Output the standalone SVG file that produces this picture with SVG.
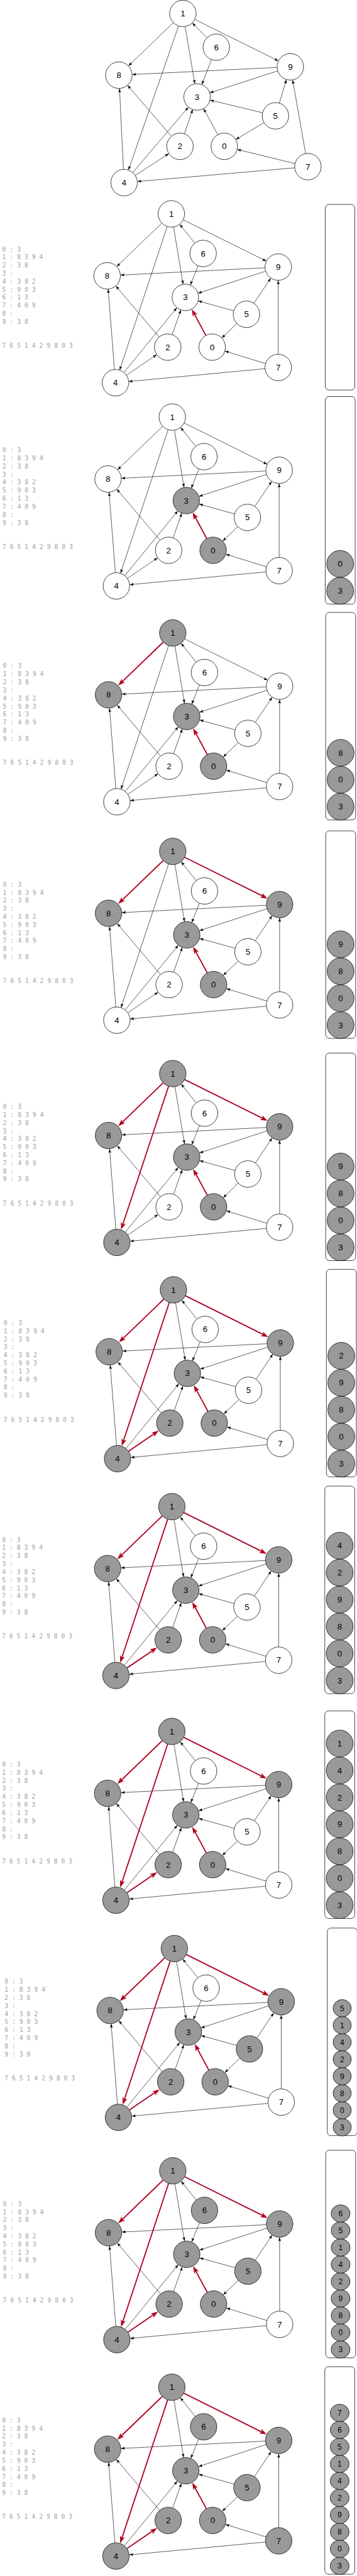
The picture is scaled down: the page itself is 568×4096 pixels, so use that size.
<svg xmlns="http://www.w3.org/2000/svg" width="568" height="4096" viewBox="0 0 568 4096">
<defs>
<marker id="ak" markerUnits="userSpaceOnUse" markerWidth="12" markerHeight="9" refX="11" refY="4" orient="auto"><path d="M0,0L11,4L0,8L2.5,4Z" fill="#000"/></marker>
<marker id="ar" markerUnits="userSpaceOnUse" markerWidth="21" markerHeight="15" refX="12" refY="7" orient="auto"><path d="M0,0L20,7L0,14L5,7Z" fill="#b0001e"/></marker>
<style>
.nd circle,.nd ellipse{stroke:#000;stroke-width:1.3;fill:#fff}
.g circle,.g ellipse{fill:#999}
.nd text{font-family:'Liberation Sans',Arial,sans-serif;font-size:23px;text-anchor:middle;fill:#000}
.sm text{font-size:21px}
.k{stroke:#000;stroke-width:1.1;fill:none;marker-end:url(#ak)}
.r{stroke:#b0001e;stroke-width:3.2;fill:none;marker-end:url(#ar)}
.adj text{font-family:'DejaVu Sans Mono','Liberation Mono',monospace;font-size:17px;fill:#9aa5a9}
.box{fill:#fff;stroke:#333;stroke-width:1.6}
</style>
</defs>
<rect width="568" height="4096" fill="#fff"/>
<g transform="scale(0.5774)">

<g id="panel1">
<g id="p1-edges">
<line class="k" x1="600.1" y1="370.6" x2="560.9" y2="299.4"/>
<line class="k" x1="477.4" y1="62.7" x2="354.1" y2="181.3"/>
<line class="k" x1="510.2" y1="73.5" x2="536.8" y2="230.5"/>
<line class="k" x1="537.1" y1="53.5" x2="766.9" y2="167.5"/>
<line class="k" x1="491.9" y1="71.9" x2="354.1" y2="468.1"/>
<line class="k" x1="508.1" y1="368" x2="530.9" y2="302"/>
<line class="k" x1="471.9" y1="374.9" x2="351.6" y2="235.1"/>
<line class="k" x1="366" y1="474.8" x2="519" y2="295.2"/>
<line class="k" x1="340.2" y1="466" x2="329.3" y2="244"/>
<line class="k" x1="373" y1="482.8" x2="465" y2="423.2"/>
<line class="k" x1="769.8" y1="283.6" x2="789.2" y2="219.4"/>
<line class="k" x1="727.2" y1="337.9" x2="649.8" y2="384.1"/>
<line class="k" x1="723" y1="310.3" x2="579" y2="275.7"/>
<line class="k" x1="570" y1="103.7" x2="530" y2="63.3"/>
<line class="k" x1="582.7" y1="164.5" x2="556.3" y2="232.5"/>
<line class="k" x1="811.6" y1="462.2" x2="378.9" y2="499.8"/>
<line class="k" x1="812.5" y1="450.3" x2="654" y2="411.7"/>
<line class="k" x1="842.1" y1="422.6" x2="806.4" y2="220.4"/>
<line class="k" x1="764.8" y1="195.4" x2="578.2" y2="255.6"/>
<line class="k" x1="763" y1="185.8" x2="364.5" y2="205.2"/>
</g>
<g id="p1-n0" class="nd"><circle cx="618" cy="403" r="36.5"/><text x="618" y="411">0</text></g>
<g id="p1-n1" class="nd"><circle cx="504" cy="37" r="36.5"/><text x="504" y="45">1</text></g>
<g id="p1-n2" class="nd"><circle cx="496" cy="403" r="36.5"/><text x="496" y="411">2</text></g>
<g id="p1-n3" class="nd"><circle cx="543" cy="267" r="36.5"/><text x="543" y="275">3</text></g>
<g id="p1-n4" class="nd"><circle cx="342" cy="503" r="36.5"/><text x="342" y="511">4</text></g>
<g id="p1-n5" class="nd"><circle cx="759" cy="319" r="36.5"/><text x="759" y="327">5</text></g>
<g id="p1-n6" class="nd"><circle cx="596" cy="130" r="36.5"/><text x="596" y="138">6</text></g>
<g id="p1-n7" class="nd"><circle cx="848.5" cy="459" r="36.5"/><text x="848.5" y="467">7</text></g>
<g id="p1-n8" class="nd"><circle cx="327.5" cy="207" r="36.5"/><text x="327.5" y="215">8</text></g>
<g id="p1-n9" class="nd"><circle cx="800" cy="184" r="36.5"/><text x="800" y="192">9</text></g>
</g>

<g id="panel2" transform="translate(-3.8,546)">
<g id="p2-edges">
<line class="k" x1="482.1" y1="79.5" x2="508.4" y2="236.5"/>
<line class="k" x1="478.4" y1="375.1" x2="502.1" y2="307.9"/>
<line class="k" x1="442" y1="381.8" x2="323" y2="241.7"/>
<line class="k" x1="345.4" y1="479.4" x2="491.1" y2="301.6"/>
<line class="k" x1="319.1" y1="471.1" x2="301.9" y2="250.4"/>
<line class="k" x1="703.7" y1="288.8" x2="749.8" y2="220.2"/>
<line class="k" x1="656.3" y1="345.1" x2="615.2" y2="384.4"/>
<line class="k" x1="647.3" y1="309.7" x2="550.2" y2="282.8"/>
<line class="k" x1="540.3" y1="123.2" x2="499.2" y2="71.8"/>
<line class="k" x1="549.6" y1="186.3" x2="528.4" y2="238.7"/>
<line class="k" x1="733.7" y1="469.4" x2="358.8" y2="504.6"/>
<line class="k" x1="735.1" y1="455.1" x2="623.9" y2="420.9"/>
<line class="k" x1="770.5" y1="429" x2="770.5" y2="226.5"/>
<line class="k" x1="735.3" y1="201" x2="549.7" y2="261.5"/>
<line class="k" x1="733.5" y1="191.4" x2="336" y2="211.6"/>
<line class="k" x1="449.4" y1="68.7" x2="325.6" y2="187.8"/>
<line class="k" x1="509.1" y1="59.5" x2="737.4" y2="173"/>
<line class="k" x1="464.4" y1="78.1" x2="333.6" y2="472.9"/>
<line class="k" x1="352.6" y1="487.2" x2="435.4" y2="430.8"/>
<line class="r" x1="570.9" y1="377.4" x2="535.9" y2="312.6"/>
</g>
<g id="p2-n0" class="nd"><circle cx="588.5" cy="410" r="36.5"/><text x="588.5" y="418">0</text></g>
<g id="p2-n1" class="nd"><circle cx="476" cy="43" r="36.5"/><text x="476" y="51">1</text></g>
<g id="p2-n2" class="nd"><circle cx="466" cy="410" r="36.5"/><text x="466" y="418">2</text></g>
<g id="p2-n3" class="nd"><circle cx="514.5" cy="273" r="36.5"/><text x="514.5" y="281">3</text></g>
<g id="p2-n4" class="nd"><circle cx="322" cy="508" r="36.5"/><text x="322" y="516">4</text></g>
<g id="p2-n5" class="nd"><circle cx="683" cy="319.5" r="36.5"/><text x="683" y="327.5">5</text></g>
<g id="p2-n6" class="nd"><circle cx="563.5" cy="152" r="36.5"/><text x="563.5" y="160">6</text></g>
<g id="p2-n7" class="nd"><circle cx="770.5" cy="466" r="36.5"/><text x="770.5" y="474">7</text></g>
<g id="p2-n8" class="nd"><circle cx="299" cy="213.5" r="36.5"/><text x="299" y="221.5">8</text></g>
<g id="p2-n9" class="nd"><circle cx="770.5" cy="189.5" r="36.5"/><text x="770.5" y="197.5">9</text></g>
<g id="p2-adj" class="adj" transform="translate(2,6)"><text x="8" y="140">0 : 3</text><text x="8" y="162.2">1 : 8 3 9 4</text><text x="8" y="184.4">2 : 3 8</text><text x="8" y="206.6">3 :</text><text x="8" y="228.8">4 : 3 8 2</text><text x="8" y="251">5 : 9 0 3</text><text x="8" y="273.2">6 : 1 3</text><text x="8" y="295.4">7 : 4 0 9</text><text x="8" y="317.6">8 :</text><text x="8" y="339.8">9 : 3 8</text><text x="8" y="406">7 6 5 1 4 2 9 8 0 3</text></g>
<g id="p2-stack"><rect class="box" x="900" y="17" width="81.5" height="511" rx="10"/></g>
</g>

<g id="panel3" transform="translate(-1.3,1105.5)">
<g id="p3-edges">
<line class="k" x1="482.1" y1="79.5" x2="508.4" y2="236.5"/>
<line class="k" x1="478.4" y1="375.1" x2="502.1" y2="307.9"/>
<line class="k" x1="442" y1="381.8" x2="323" y2="241.7"/>
<line class="k" x1="345.4" y1="479.4" x2="491.1" y2="301.6"/>
<line class="k" x1="319.1" y1="471.1" x2="301.9" y2="250.4"/>
<line class="k" x1="703.7" y1="288.8" x2="749.8" y2="220.2"/>
<line class="k" x1="656.3" y1="345.1" x2="615.2" y2="384.4"/>
<line class="k" x1="647.3" y1="309.7" x2="550.2" y2="282.8"/>
<line class="k" x1="540.3" y1="123.2" x2="499.2" y2="71.8"/>
<line class="k" x1="549.6" y1="186.3" x2="528.4" y2="238.7"/>
<line class="k" x1="733.7" y1="469.4" x2="358.8" y2="504.6"/>
<line class="k" x1="735.1" y1="455.1" x2="623.9" y2="420.9"/>
<line class="k" x1="770.5" y1="429" x2="770.5" y2="226.5"/>
<line class="k" x1="735.3" y1="201" x2="549.7" y2="261.5"/>
<line class="k" x1="733.5" y1="191.4" x2="336" y2="211.6"/>
<line class="k" x1="449.4" y1="68.7" x2="325.6" y2="187.8"/>
<line class="k" x1="509.1" y1="59.5" x2="737.4" y2="173"/>
<line class="k" x1="464.4" y1="78.1" x2="333.6" y2="472.9"/>
<line class="k" x1="352.6" y1="487.2" x2="435.4" y2="430.8"/>
<line class="r" x1="570.9" y1="377.4" x2="535.9" y2="312.6"/>
</g>
<g id="p3-n0" class="nd g"><circle cx="588.5" cy="410" r="36.5"/><text x="588.5" y="418">0</text></g>
<g id="p3-n1" class="nd"><circle cx="476" cy="43" r="36.5"/><text x="476" y="51">1</text></g>
<g id="p3-n2" class="nd"><circle cx="466" cy="410" r="36.5"/><text x="466" y="418">2</text></g>
<g id="p3-n3" class="nd g"><circle cx="514.5" cy="273" r="36.5"/><text x="514.5" y="281">3</text></g>
<g id="p3-n4" class="nd"><circle cx="322" cy="508" r="36.5"/><text x="322" y="516">4</text></g>
<g id="p3-n5" class="nd"><circle cx="683" cy="319.5" r="36.5"/><text x="683" y="327.5">5</text></g>
<g id="p3-n6" class="nd"><circle cx="563.5" cy="152" r="36.5"/><text x="563.5" y="160">6</text></g>
<g id="p3-n7" class="nd"><circle cx="770.5" cy="466" r="36.5"/><text x="770.5" y="474">7</text></g>
<g id="p3-n8" class="nd"><circle cx="299" cy="213.5" r="36.5"/><text x="299" y="221.5">8</text></g>
<g id="p3-n9" class="nd"><circle cx="770.5" cy="189.5" r="36.5"/><text x="770.5" y="197.5">9</text></g>
<g id="p3-adj" class="adj"><text x="8" y="140">0 : 3</text><text x="8" y="162.2">1 : 8 3 9 4</text><text x="8" y="184.4">2 : 3 8</text><text x="8" y="206.6">3 :</text><text x="8" y="228.8">4 : 3 8 2</text><text x="8" y="251">5 : 9 0 3</text><text x="8" y="273.2">6 : 1 3</text><text x="8" y="295.4">7 : 4 0 9</text><text x="8" y="317.6">8 :</text><text x="8" y="339.8">9 : 3 8</text><text x="8" y="406">7 6 5 1 4 2 9 8 0 3</text></g>
<g id="p3-stack"><rect class="box" x="897.5" y="-13.5" width="82.5" height="571.5" rx="10"/>
<g id="p3-s0" class="nd g"><circle cx="938.5" cy="521.5" r="37"/><text x="938.5" y="529.5">3</text></g>
<g id="p3-s1" class="nd g"><circle cx="938.5" cy="447.3" r="37"/><text x="938.5" y="455.3">0</text></g>
</g>
</g>

<g id="panel4" transform="translate(0,1700)">
<g id="p4-edges">
<line class="k" x1="482.1" y1="79.5" x2="508.4" y2="236.5"/>
<line class="k" x1="478.4" y1="375.1" x2="502.1" y2="307.9"/>
<line class="k" x1="442" y1="381.8" x2="323" y2="241.7"/>
<line class="k" x1="345.4" y1="479.4" x2="491.1" y2="301.6"/>
<line class="k" x1="319.1" y1="471.1" x2="301.9" y2="250.4"/>
<line class="k" x1="703.7" y1="288.8" x2="749.8" y2="220.2"/>
<line class="k" x1="656.3" y1="345.1" x2="615.2" y2="384.4"/>
<line class="k" x1="647.3" y1="309.7" x2="550.2" y2="282.8"/>
<line class="k" x1="540.3" y1="123.2" x2="499.2" y2="71.8"/>
<line class="k" x1="549.6" y1="186.3" x2="528.4" y2="238.7"/>
<line class="k" x1="733.7" y1="469.4" x2="358.8" y2="504.6"/>
<line class="k" x1="735.1" y1="455.1" x2="623.9" y2="420.9"/>
<line class="k" x1="770.5" y1="429" x2="770.5" y2="226.5"/>
<line class="k" x1="735.3" y1="201" x2="549.7" y2="261.5"/>
<line class="k" x1="733.5" y1="191.4" x2="336" y2="211.6"/>
<line class="k" x1="509.1" y1="59.5" x2="737.4" y2="173"/>
<line class="k" x1="464.4" y1="78.1" x2="333.6" y2="472.9"/>
<line class="k" x1="352.6" y1="487.2" x2="435.4" y2="430.8"/>
<line class="r" x1="570.9" y1="377.4" x2="535.9" y2="312.6"/>
<line class="r" x1="449.4" y1="68.7" x2="331.4" y2="182.3"/>
</g>
<g id="p4-n0" class="nd g"><circle cx="588.5" cy="410" r="36.5"/><text x="588.5" y="418">0</text></g>
<g id="p4-n1" class="nd g"><circle cx="476" cy="43" r="36.5"/><text x="476" y="51">1</text></g>
<g id="p4-n2" class="nd"><circle cx="466" cy="410" r="36.5"/><text x="466" y="418">2</text></g>
<g id="p4-n3" class="nd g"><circle cx="514.5" cy="273" r="36.5"/><text x="514.5" y="281">3</text></g>
<g id="p4-n4" class="nd"><circle cx="322" cy="508" r="36.5"/><text x="322" y="516">4</text></g>
<g id="p4-n5" class="nd"><circle cx="683" cy="319.5" r="36.5"/><text x="683" y="327.5">5</text></g>
<g id="p4-n6" class="nd"><circle cx="563.5" cy="152" r="36.5"/><text x="563.5" y="160">6</text></g>
<g id="p4-n7" class="nd"><circle cx="770.5" cy="466" r="36.5"/><text x="770.5" y="474">7</text></g>
<g id="p4-n8" class="nd g"><circle cx="299" cy="213.5" r="36.5"/><text x="299" y="221.5">8</text></g>
<g id="p4-n9" class="nd"><circle cx="770.5" cy="189.5" r="36.5"/><text x="770.5" y="197.5">9</text></g>
<g id="p4-adj" class="adj"><text x="8" y="140">0 : 3</text><text x="8" y="162.2">1 : 8 3 9 4</text><text x="8" y="184.4">2 : 3 8</text><text x="8" y="206.6">3 :</text><text x="8" y="228.8">4 : 3 8 2</text><text x="8" y="251">5 : 9 0 3</text><text x="8" y="273.2">6 : 1 3</text><text x="8" y="295.4">7 : 4 0 9</text><text x="8" y="317.6">8 :</text><text x="8" y="339.8">9 : 3 8</text><text x="8" y="406">7 6 5 1 4 2 9 8 0 3</text></g>
<g id="p4-stack"><rect class="box" x="897.5" y="-13.5" width="82.5" height="571.5" rx="10"/>
<g id="p4-s0" class="nd g"><circle cx="938.5" cy="521.5" r="37"/><text x="938.5" y="529.5">3</text></g>
<g id="p4-s1" class="nd g"><circle cx="938.5" cy="447.3" r="37"/><text x="938.5" y="455.3">0</text></g>
<g id="p4-s2" class="nd g"><circle cx="938.5" cy="373.1" r="37"/><text x="938.5" y="381.1">8</text></g>
</g>
</g>

<g id="panel5" transform="translate(0,2301.5)">
<g id="p5-edges">
<line class="k" x1="482.1" y1="79.5" x2="508.4" y2="236.5"/>
<line class="k" x1="478.4" y1="375.1" x2="502.1" y2="307.9"/>
<line class="k" x1="442" y1="381.8" x2="323" y2="241.7"/>
<line class="k" x1="345.4" y1="479.4" x2="491.1" y2="301.6"/>
<line class="k" x1="319.1" y1="471.1" x2="301.9" y2="250.4"/>
<line class="k" x1="703.7" y1="288.8" x2="749.8" y2="220.2"/>
<line class="k" x1="656.3" y1="345.1" x2="615.2" y2="384.4"/>
<line class="k" x1="647.3" y1="309.7" x2="550.2" y2="282.8"/>
<line class="k" x1="540.3" y1="123.2" x2="499.2" y2="71.8"/>
<line class="k" x1="549.6" y1="186.3" x2="528.4" y2="238.7"/>
<line class="k" x1="733.7" y1="469.4" x2="358.8" y2="504.6"/>
<line class="k" x1="735.1" y1="455.1" x2="623.9" y2="420.9"/>
<line class="k" x1="770.5" y1="429" x2="770.5" y2="226.5"/>
<line class="k" x1="735.3" y1="201" x2="549.7" y2="261.5"/>
<line class="k" x1="733.5" y1="191.4" x2="336" y2="211.6"/>
<line class="k" x1="464.4" y1="78.1" x2="333.6" y2="472.9"/>
<line class="k" x1="352.6" y1="487.2" x2="435.4" y2="430.8"/>
<line class="r" x1="570.9" y1="377.4" x2="535.9" y2="312.6"/>
<line class="r" x1="449.4" y1="68.7" x2="331.4" y2="182.3"/>
<line class="r" x1="509.1" y1="59.5" x2="730.2" y2="169.4"/>
</g>
<g id="p5-n0" class="nd g"><circle cx="588.5" cy="410" r="36.5"/><text x="588.5" y="418">0</text></g>
<g id="p5-n1" class="nd g"><circle cx="476" cy="43" r="36.5"/><text x="476" y="51">1</text></g>
<g id="p5-n2" class="nd"><circle cx="466" cy="410" r="36.5"/><text x="466" y="418">2</text></g>
<g id="p5-n3" class="nd g"><circle cx="514.5" cy="273" r="36.5"/><text x="514.5" y="281">3</text></g>
<g id="p5-n4" class="nd"><circle cx="322" cy="508" r="36.5"/><text x="322" y="516">4</text></g>
<g id="p5-n5" class="nd"><circle cx="683" cy="319.5" r="36.5"/><text x="683" y="327.5">5</text></g>
<g id="p5-n6" class="nd"><circle cx="563.5" cy="152" r="36.5"/><text x="563.5" y="160">6</text></g>
<g id="p5-n7" class="nd"><circle cx="770.5" cy="466" r="36.5"/><text x="770.5" y="474">7</text></g>
<g id="p5-n8" class="nd g"><circle cx="299" cy="213.5" r="36.5"/><text x="299" y="221.5">8</text></g>
<g id="p5-n9" class="nd g"><circle cx="770.5" cy="189.5" r="36.5"/><text x="770.5" y="197.5">9</text></g>
<g id="p5-adj" class="adj"><text x="8" y="140">0 : 3</text><text x="8" y="162.2">1 : 8 3 9 4</text><text x="8" y="184.4">2 : 3 8</text><text x="8" y="206.6">3 :</text><text x="8" y="228.8">4 : 3 8 2</text><text x="8" y="251">5 : 9 0 3</text><text x="8" y="273.2">6 : 1 3</text><text x="8" y="295.4">7 : 4 0 9</text><text x="8" y="317.6">8 :</text><text x="8" y="339.8">9 : 3 8</text><text x="8" y="406">7 6 5 1 4 2 9 8 0 3</text></g>
<g id="p5-stack"><rect class="box" x="897.5" y="-13.5" width="82.5" height="571.5" rx="10"/>
<g id="p5-s0" class="nd g"><circle cx="938.5" cy="521.5" r="37"/><text x="938.5" y="529.5">3</text></g>
<g id="p5-s1" class="nd g"><circle cx="938.5" cy="447.3" r="37"/><text x="938.5" y="455.3">0</text></g>
<g id="p5-s2" class="nd g"><circle cx="938.5" cy="373.1" r="37"/><text x="938.5" y="381.1">8</text></g>
<g id="p5-s3" class="nd g"><circle cx="938.5" cy="298.9" r="37"/><text x="938.5" y="306.9">9</text></g>
</g>
</g>

<g id="panel6" transform="translate(0,2913.5)">
<g id="p6-edges">
<line class="k" x1="482.1" y1="79.5" x2="508.4" y2="236.5"/>
<line class="k" x1="478.4" y1="375.1" x2="502.1" y2="307.9"/>
<line class="k" x1="442" y1="381.8" x2="323" y2="241.7"/>
<line class="k" x1="345.4" y1="479.4" x2="491.1" y2="301.6"/>
<line class="k" x1="319.1" y1="471.1" x2="301.9" y2="250.4"/>
<line class="k" x1="703.7" y1="288.8" x2="749.8" y2="220.2"/>
<line class="k" x1="656.3" y1="345.1" x2="615.2" y2="384.4"/>
<line class="k" x1="647.3" y1="309.7" x2="550.2" y2="282.8"/>
<line class="k" x1="540.3" y1="123.2" x2="499.2" y2="71.8"/>
<line class="k" x1="549.6" y1="186.3" x2="528.4" y2="238.7"/>
<line class="k" x1="733.7" y1="469.4" x2="358.8" y2="504.6"/>
<line class="k" x1="735.1" y1="455.1" x2="623.9" y2="420.9"/>
<line class="k" x1="770.5" y1="429" x2="770.5" y2="226.5"/>
<line class="k" x1="735.3" y1="201" x2="549.7" y2="261.5"/>
<line class="k" x1="733.5" y1="191.4" x2="336" y2="211.6"/>
<line class="k" x1="352.6" y1="487.2" x2="435.4" y2="430.8"/>
<line class="r" x1="570.9" y1="377.4" x2="535.9" y2="312.6"/>
<line class="r" x1="449.4" y1="68.7" x2="331.4" y2="182.3"/>
<line class="r" x1="509.1" y1="59.5" x2="730.2" y2="169.4"/>
<line class="r" x1="464.4" y1="78.1" x2="336.1" y2="465.3"/>
</g>
<g id="p6-n0" class="nd g"><circle cx="588.5" cy="410" r="36.5"/><text x="588.5" y="418">0</text></g>
<g id="p6-n1" class="nd g"><circle cx="476" cy="43" r="36.5"/><text x="476" y="51">1</text></g>
<g id="p6-n2" class="nd"><circle cx="466" cy="410" r="36.5"/><text x="466" y="418">2</text></g>
<g id="p6-n3" class="nd g"><circle cx="514.5" cy="273" r="36.5"/><text x="514.5" y="281">3</text></g>
<g id="p6-n4" class="nd g"><circle cx="322" cy="508" r="36.5"/><text x="322" y="516">4</text></g>
<g id="p6-n5" class="nd"><circle cx="683" cy="319.5" r="36.5"/><text x="683" y="327.5">5</text></g>
<g id="p6-n6" class="nd"><circle cx="563.5" cy="152" r="36.5"/><text x="563.5" y="160">6</text></g>
<g id="p6-n7" class="nd"><circle cx="770.5" cy="466" r="36.5"/><text x="770.5" y="474">7</text></g>
<g id="p6-n8" class="nd g"><circle cx="299" cy="213.5" r="36.5"/><text x="299" y="221.5">8</text></g>
<g id="p6-n9" class="nd g"><circle cx="770.5" cy="189.5" r="36.5"/><text x="770.5" y="197.5">9</text></g>
<g id="p6-adj" class="adj"><text x="8" y="140">0 : 3</text><text x="8" y="162.2">1 : 8 3 9 4</text><text x="8" y="184.4">2 : 3 8</text><text x="8" y="206.6">3 :</text><text x="8" y="228.8">4 : 3 8 2</text><text x="8" y="251">5 : 9 0 3</text><text x="8" y="273.2">6 : 1 3</text><text x="8" y="295.4">7 : 4 0 9</text><text x="8" y="317.6">8 :</text><text x="8" y="339.8">9 : 3 8</text><text x="8" y="406">7 6 5 1 4 2 9 8 0 3</text></g>
<g id="p6-stack"><rect class="box" x="897.5" y="-13.5" width="82.5" height="571.5" rx="10"/>
<g id="p6-s0" class="nd g"><circle cx="938.5" cy="521.5" r="37"/><text x="938.5" y="529.5">3</text></g>
<g id="p6-s1" class="nd g"><circle cx="938.5" cy="447.3" r="37"/><text x="938.5" y="455.3">0</text></g>
<g id="p6-s2" class="nd g"><circle cx="938.5" cy="373.1" r="37"/><text x="938.5" y="381.1">8</text></g>
<g id="p6-s3" class="nd g"><circle cx="938.5" cy="298.9" r="37"/><text x="938.5" y="306.9">9</text></g>
</g>
</g>

<g id="panel7" transform="translate(1.9,3509)">
<g id="p7-edges">
<line class="k" x1="482.1" y1="79.5" x2="508.4" y2="236.5"/>
<line class="k" x1="478.4" y1="375.1" x2="502.1" y2="307.9"/>
<line class="k" x1="442" y1="381.8" x2="323" y2="241.7"/>
<line class="k" x1="345.4" y1="479.4" x2="491.1" y2="301.6"/>
<line class="k" x1="319.1" y1="471.1" x2="301.9" y2="250.4"/>
<line class="k" x1="703.7" y1="288.8" x2="749.8" y2="220.2"/>
<line class="k" x1="656.3" y1="345.1" x2="615.2" y2="384.4"/>
<line class="k" x1="647.3" y1="309.7" x2="550.2" y2="282.8"/>
<line class="k" x1="540.3" y1="123.2" x2="499.2" y2="71.8"/>
<line class="k" x1="549.6" y1="186.3" x2="528.4" y2="238.7"/>
<line class="k" x1="733.7" y1="469.4" x2="358.8" y2="504.6"/>
<line class="k" x1="735.1" y1="455.1" x2="623.9" y2="420.9"/>
<line class="k" x1="770.5" y1="429" x2="770.5" y2="226.5"/>
<line class="k" x1="735.3" y1="201" x2="549.7" y2="261.5"/>
<line class="k" x1="733.5" y1="191.4" x2="336" y2="211.6"/>
<line class="r" x1="570.9" y1="377.4" x2="535.9" y2="312.6"/>
<line class="r" x1="449.4" y1="68.7" x2="331.4" y2="182.3"/>
<line class="r" x1="509.1" y1="59.5" x2="730.2" y2="169.4"/>
<line class="r" x1="464.4" y1="78.1" x2="336.1" y2="465.3"/>
<line class="r" x1="352.6" y1="487.2" x2="428.8" y2="435.3"/>
</g>
<g id="p7-n0" class="nd g"><circle cx="588.5" cy="410" r="36.5"/><text x="588.5" y="418">0</text></g>
<g id="p7-n1" class="nd g"><circle cx="476" cy="43" r="36.5"/><text x="476" y="51">1</text></g>
<g id="p7-n2" class="nd g"><circle cx="466" cy="410" r="36.5"/><text x="466" y="418">2</text></g>
<g id="p7-n3" class="nd g"><circle cx="514.5" cy="273" r="36.5"/><text x="514.5" y="281">3</text></g>
<g id="p7-n4" class="nd g"><circle cx="322" cy="508" r="36.5"/><text x="322" y="516">4</text></g>
<g id="p7-n5" class="nd"><circle cx="683" cy="319.5" r="36.5"/><text x="683" y="327.5">5</text></g>
<g id="p7-n6" class="nd"><circle cx="563.5" cy="152" r="36.5"/><text x="563.5" y="160">6</text></g>
<g id="p7-n7" class="nd"><circle cx="770.5" cy="466" r="36.5"/><text x="770.5" y="474">7</text></g>
<g id="p7-n8" class="nd g"><circle cx="299" cy="213.5" r="36.5"/><text x="299" y="221.5">8</text></g>
<g id="p7-n9" class="nd g"><circle cx="770.5" cy="189.5" r="36.5"/><text x="770.5" y="197.5">9</text></g>
<g id="p7-adj" class="adj"><text x="8" y="140">0 : 3</text><text x="8" y="162.2">1 : 8 3 9 4</text><text x="8" y="184.4">2 : 3 8</text><text x="8" y="206.6">3 :</text><text x="8" y="228.8">4 : 3 8 2</text><text x="8" y="251">5 : 9 0 3</text><text x="8" y="273.2">6 : 1 3</text><text x="8" y="295.4">7 : 4 0 9</text><text x="8" y="317.6">8 :</text><text x="8" y="339.8">9 : 3 8</text><text x="8" y="406">7 6 5 1 4 2 9 8 0 3</text></g>
<g id="p7-stack"><rect class="box" x="897.5" y="-13.5" width="82.5" height="571.5" rx="10"/>
<g id="p7-s0" class="nd g"><circle cx="938.5" cy="521.5" r="37"/><text x="938.5" y="529.5">3</text></g>
<g id="p7-s1" class="nd g"><circle cx="938.5" cy="447.3" r="37"/><text x="938.5" y="455.3">0</text></g>
<g id="p7-s2" class="nd g"><circle cx="938.5" cy="373.1" r="37"/><text x="938.5" y="381.1">8</text></g>
<g id="p7-s3" class="nd g"><circle cx="938.5" cy="298.9" r="37"/><text x="938.5" y="306.9">9</text></g>
<g id="p7-s4" class="nd g"><circle cx="938.5" cy="224.7" r="37"/><text x="938.5" y="232.7">2</text></g>
</g>
</g>

<g id="panel8" transform="translate(-2.5,4106)">
<g id="p8-edges">
<line class="k" x1="482.1" y1="79.5" x2="508.4" y2="236.5"/>
<line class="k" x1="478.4" y1="375.1" x2="502.1" y2="307.9"/>
<line class="k" x1="442" y1="381.8" x2="323" y2="241.7"/>
<line class="k" x1="345.4" y1="479.4" x2="491.1" y2="301.6"/>
<line class="k" x1="319.1" y1="471.1" x2="301.9" y2="250.4"/>
<line class="k" x1="703.7" y1="288.8" x2="749.8" y2="220.2"/>
<line class="k" x1="656.3" y1="345.1" x2="615.2" y2="384.4"/>
<line class="k" x1="647.3" y1="309.7" x2="550.2" y2="282.8"/>
<line class="k" x1="540.3" y1="123.2" x2="499.2" y2="71.8"/>
<line class="k" x1="549.6" y1="186.3" x2="528.4" y2="238.7"/>
<line class="k" x1="733.7" y1="469.4" x2="358.8" y2="504.6"/>
<line class="k" x1="735.1" y1="455.1" x2="623.9" y2="420.9"/>
<line class="k" x1="770.5" y1="429" x2="770.5" y2="226.5"/>
<line class="k" x1="735.3" y1="201" x2="549.7" y2="261.5"/>
<line class="k" x1="733.5" y1="191.4" x2="336" y2="211.6"/>
<line class="r" x1="570.9" y1="377.4" x2="535.9" y2="312.6"/>
<line class="r" x1="449.4" y1="68.7" x2="331.4" y2="182.3"/>
<line class="r" x1="509.1" y1="59.5" x2="730.2" y2="169.4"/>
<line class="r" x1="464.4" y1="78.1" x2="336.1" y2="465.3"/>
<line class="r" x1="352.6" y1="487.2" x2="428.8" y2="435.3"/>
</g>
<g id="p8-n0" class="nd g"><circle cx="588.5" cy="410" r="36.5"/><text x="588.5" y="418">0</text></g>
<g id="p8-n1" class="nd g"><circle cx="476" cy="43" r="36.5"/><text x="476" y="51">1</text></g>
<g id="p8-n2" class="nd g"><circle cx="466" cy="410" r="36.5"/><text x="466" y="418">2</text></g>
<g id="p8-n3" class="nd g"><circle cx="514.5" cy="273" r="36.5"/><text x="514.5" y="281">3</text></g>
<g id="p8-n4" class="nd g"><circle cx="322" cy="508" r="36.5"/><text x="322" y="516">4</text></g>
<g id="p8-n5" class="nd"><circle cx="683" cy="319.5" r="36.5"/><text x="683" y="327.5">5</text></g>
<g id="p8-n6" class="nd"><circle cx="563.5" cy="152" r="36.5"/><text x="563.5" y="160">6</text></g>
<g id="p8-n7" class="nd"><circle cx="770.5" cy="466" r="36.5"/><text x="770.5" y="474">7</text></g>
<g id="p8-n8" class="nd g"><circle cx="299" cy="213.5" r="36.5"/><text x="299" y="221.5">8</text></g>
<g id="p8-n9" class="nd g"><circle cx="770.5" cy="189.5" r="36.5"/><text x="770.5" y="197.5">9</text></g>
<g id="p8-adj" class="adj"><text x="8" y="140">0 : 3</text><text x="8" y="162.2">1 : 8 3 9 4</text><text x="8" y="184.4">2 : 3 8</text><text x="8" y="206.6">3 :</text><text x="8" y="228.8">4 : 3 8 2</text><text x="8" y="251">5 : 9 0 3</text><text x="8" y="273.2">6 : 1 3</text><text x="8" y="295.4">7 : 4 0 9</text><text x="8" y="317.6">8 :</text><text x="8" y="339.8">9 : 3 8</text><text x="8" y="406">7 6 5 1 4 2 9 8 0 3</text></g>
<g id="p8-stack"><rect class="box" x="897.5" y="-13.5" width="82.5" height="571.5" rx="10"/>
<g id="p8-s0" class="nd g"><circle cx="938.5" cy="521.5" r="37"/><text x="938.5" y="529.5">3</text></g>
<g id="p8-s1" class="nd g"><circle cx="938.5" cy="447.3" r="37"/><text x="938.5" y="455.3">0</text></g>
<g id="p8-s2" class="nd g"><circle cx="938.5" cy="373.1" r="37"/><text x="938.5" y="381.1">8</text></g>
<g id="p8-s3" class="nd g"><circle cx="938.5" cy="298.9" r="37"/><text x="938.5" y="306.9">9</text></g>
<g id="p8-s4" class="nd g"><circle cx="938.5" cy="224.7" r="37"/><text x="938.5" y="232.7">2</text></g>
<g id="p8-s5" class="nd g"><circle cx="938.5" cy="150.5" r="37"/><text x="938.5" y="158.5">4</text></g>
</g>
</g>

<g id="panel9" transform="translate(-2.5,4725)">
<g id="p9-edges">
<line class="k" x1="482.1" y1="79.5" x2="508.4" y2="236.5"/>
<line class="k" x1="478.4" y1="375.1" x2="502.1" y2="307.9"/>
<line class="k" x1="442" y1="381.8" x2="323" y2="241.7"/>
<line class="k" x1="345.4" y1="479.4" x2="491.1" y2="301.6"/>
<line class="k" x1="319.1" y1="471.1" x2="301.9" y2="250.4"/>
<line class="k" x1="703.7" y1="288.8" x2="749.8" y2="220.2"/>
<line class="k" x1="656.3" y1="345.1" x2="615.2" y2="384.4"/>
<line class="k" x1="647.3" y1="309.7" x2="550.2" y2="282.8"/>
<line class="k" x1="540.3" y1="123.2" x2="499.2" y2="71.8"/>
<line class="k" x1="549.6" y1="186.3" x2="528.4" y2="238.7"/>
<line class="k" x1="733.7" y1="469.4" x2="358.8" y2="504.6"/>
<line class="k" x1="735.1" y1="455.1" x2="623.9" y2="420.9"/>
<line class="k" x1="770.5" y1="429" x2="770.5" y2="226.5"/>
<line class="k" x1="735.3" y1="201" x2="549.7" y2="261.5"/>
<line class="k" x1="733.5" y1="191.4" x2="336" y2="211.6"/>
<line class="r" x1="570.9" y1="377.4" x2="535.9" y2="312.6"/>
<line class="r" x1="449.4" y1="68.7" x2="331.4" y2="182.3"/>
<line class="r" x1="509.1" y1="59.5" x2="730.2" y2="169.4"/>
<line class="r" x1="464.4" y1="78.1" x2="336.1" y2="465.3"/>
<line class="r" x1="352.6" y1="487.2" x2="428.8" y2="435.3"/>
</g>
<g id="p9-n0" class="nd g"><circle cx="588.5" cy="410" r="36.5"/><text x="588.5" y="418">0</text></g>
<g id="p9-n1" class="nd g"><circle cx="476" cy="43" r="36.5"/><text x="476" y="51">1</text></g>
<g id="p9-n2" class="nd g"><circle cx="466" cy="410" r="36.5"/><text x="466" y="418">2</text></g>
<g id="p9-n3" class="nd g"><circle cx="514.5" cy="273" r="36.5"/><text x="514.5" y="281">3</text></g>
<g id="p9-n4" class="nd g"><circle cx="322" cy="508" r="36.5"/><text x="322" y="516">4</text></g>
<g id="p9-n5" class="nd"><circle cx="683" cy="319.5" r="36.5"/><text x="683" y="327.5">5</text></g>
<g id="p9-n6" class="nd"><circle cx="563.5" cy="152" r="36.5"/><text x="563.5" y="160">6</text></g>
<g id="p9-n7" class="nd"><circle cx="770.5" cy="466" r="36.5"/><text x="770.5" y="474">7</text></g>
<g id="p9-n8" class="nd g"><circle cx="299" cy="213.5" r="36.5"/><text x="299" y="221.5">8</text></g>
<g id="p9-n9" class="nd g"><circle cx="770.5" cy="189.5" r="36.5"/><text x="770.5" y="197.5">9</text></g>
<g id="p9-adj" class="adj"><text x="8" y="140">0 : 3</text><text x="8" y="162.2">1 : 8 3 9 4</text><text x="8" y="184.4">2 : 3 8</text><text x="8" y="206.6">3 :</text><text x="8" y="228.8">4 : 3 8 2</text><text x="8" y="251">5 : 9 0 3</text><text x="8" y="273.2">6 : 1 3</text><text x="8" y="295.4">7 : 4 0 9</text><text x="8" y="317.6">8 :</text><text x="8" y="339.8">9 : 3 8</text><text x="8" y="406">7 6 5 1 4 2 9 8 0 3</text></g>
<g id="p9-stack"><rect class="box" x="897.5" y="-13.5" width="82.5" height="571.5" rx="10"/>
<g id="p9-s0" class="nd g"><circle cx="938.5" cy="521.5" r="37"/><text x="938.5" y="529.5">3</text></g>
<g id="p9-s1" class="nd g"><circle cx="938.5" cy="447.3" r="37"/><text x="938.5" y="455.3">0</text></g>
<g id="p9-s2" class="nd g"><circle cx="938.5" cy="373.1" r="37"/><text x="938.5" y="381.1">8</text></g>
<g id="p9-s3" class="nd g"><circle cx="938.5" cy="298.9" r="37"/><text x="938.5" y="306.9">9</text></g>
<g id="p9-s4" class="nd g"><circle cx="938.5" cy="224.7" r="37"/><text x="938.5" y="232.7">2</text></g>
<g id="p9-s5" class="nd g"><circle cx="938.5" cy="150.5" r="37"/><text x="938.5" y="158.5">4</text></g>
<g id="p9-s6" class="nd g"><circle cx="938.5" cy="76.3" r="37"/><text x="938.5" y="84.3">1</text></g>
</g>
</g>

<g id="panel10" transform="translate(4.4,5323)">
<g id="p10-edges">
<line class="k" x1="482.1" y1="79.5" x2="508.4" y2="236.5"/>
<line class="k" x1="478.4" y1="375.1" x2="502.1" y2="307.9"/>
<line class="k" x1="442" y1="381.8" x2="323" y2="241.7"/>
<line class="k" x1="345.4" y1="479.4" x2="491.1" y2="301.6"/>
<line class="k" x1="319.1" y1="471.1" x2="301.9" y2="250.4"/>
<line class="k" x1="703.7" y1="288.8" x2="749.8" y2="220.2"/>
<line class="k" x1="656.3" y1="345.1" x2="615.2" y2="384.4"/>
<line class="k" x1="647.3" y1="309.7" x2="550.2" y2="282.8"/>
<line class="k" x1="540.3" y1="123.2" x2="499.2" y2="71.8"/>
<line class="k" x1="549.6" y1="186.3" x2="528.4" y2="238.7"/>
<line class="k" x1="733.7" y1="469.4" x2="358.8" y2="504.6"/>
<line class="k" x1="735.1" y1="455.1" x2="623.9" y2="420.9"/>
<line class="k" x1="770.5" y1="429" x2="770.5" y2="226.5"/>
<line class="k" x1="735.3" y1="201" x2="549.7" y2="261.5"/>
<line class="k" x1="733.5" y1="191.4" x2="336" y2="211.6"/>
<line class="r" x1="570.9" y1="377.4" x2="535.9" y2="312.6"/>
<line class="r" x1="449.4" y1="68.7" x2="331.4" y2="182.3"/>
<line class="r" x1="509.1" y1="59.5" x2="730.2" y2="169.4"/>
<line class="r" x1="464.4" y1="78.1" x2="336.1" y2="465.3"/>
<line class="r" x1="352.6" y1="487.2" x2="428.8" y2="435.3"/>
</g>
<g id="p10-n0" class="nd g"><circle cx="588.5" cy="410" r="36.5"/><text x="588.5" y="418">0</text></g>
<g id="p10-n1" class="nd g"><circle cx="476" cy="43" r="36.5"/><text x="476" y="51">1</text></g>
<g id="p10-n2" class="nd g"><circle cx="466" cy="410" r="36.5"/><text x="466" y="418">2</text></g>
<g id="p10-n3" class="nd g"><circle cx="514.5" cy="273" r="36.5"/><text x="514.5" y="281">3</text></g>
<g id="p10-n4" class="nd g"><circle cx="322" cy="508" r="36.5"/><text x="322" y="516">4</text></g>
<g id="p10-n5" class="nd g"><circle cx="683" cy="319.5" r="36.5"/><text x="683" y="327.5">5</text></g>
<g id="p10-n6" class="nd"><circle cx="563.5" cy="152" r="36.5"/><text x="563.5" y="160">6</text></g>
<g id="p10-n7" class="nd"><circle cx="770.5" cy="466" r="36.5"/><text x="770.5" y="474">7</text></g>
<g id="p10-n8" class="nd g"><circle cx="299" cy="213.5" r="36.5"/><text x="299" y="221.5">8</text></g>
<g id="p10-n9" class="nd g"><circle cx="770.5" cy="189.5" r="36.5"/><text x="770.5" y="197.5">9</text></g>
<g id="p10-adj" class="adj"><text x="8" y="140">0 : 3</text><text x="8" y="162.2">1 : 8 3 9 4</text><text x="8" y="184.4">2 : 3 8</text><text x="8" y="206.6">3 :</text><text x="8" y="228.8">4 : 3 8 2</text><text x="8" y="251">5 : 9 0 3</text><text x="8" y="273.2">6 : 1 3</text><text x="8" y="295.4">7 : 4 0 9</text><text x="8" y="317.6">8 :</text><text x="8" y="339.8">9 : 3 8</text><text x="8" y="406">7 6 5 1 4 2 9 8 0 3</text></g>
<g id="p10-stack"><rect class="box" x="897.5" y="-13.5" width="82.5" height="571.5" rx="10"/>
<g id="p10-s0" class="nd g sm"><ellipse cx="938.5" cy="535" rx="25" ry="24"/><text x="938.5" y="542.5">3</text></g>
<g id="p10-s1" class="nd g sm"><ellipse cx="938.5" cy="488.2" rx="25" ry="24"/><text x="938.5" y="495.7">0</text></g>
<g id="p10-s2" class="nd g sm"><ellipse cx="938.5" cy="441.4" rx="25" ry="24"/><text x="938.5" y="448.9">8</text></g>
<g id="p10-s3" class="nd g sm"><ellipse cx="938.5" cy="394.6" rx="25" ry="24"/><text x="938.5" y="402.1">9</text></g>
<g id="p10-s4" class="nd g sm"><ellipse cx="938.5" cy="347.8" rx="25" ry="24"/><text x="938.5" y="355.3">2</text></g>
<g id="p10-s5" class="nd g sm"><ellipse cx="938.5" cy="301" rx="25" ry="24"/><text x="938.5" y="308.5">4</text></g>
<g id="p10-s6" class="nd g sm"><ellipse cx="938.5" cy="254.2" rx="25" ry="24"/><text x="938.5" y="261.7">1</text></g>
<g id="p10-s7" class="nd g sm"><ellipse cx="938.5" cy="207.4" rx="25" ry="24"/><text x="938.5" y="214.9">5</text></g>
</g>
</g>

<g id="panel11" transform="translate(0,5935)">
<g id="p11-edges">
<line class="k" x1="482.1" y1="79.5" x2="508.4" y2="236.5"/>
<line class="k" x1="478.4" y1="375.1" x2="502.1" y2="307.9"/>
<line class="k" x1="442" y1="381.8" x2="323" y2="241.7"/>
<line class="k" x1="345.4" y1="479.4" x2="491.1" y2="301.6"/>
<line class="k" x1="319.1" y1="471.1" x2="301.9" y2="250.4"/>
<line class="k" x1="703.7" y1="288.8" x2="749.8" y2="220.2"/>
<line class="k" x1="656.3" y1="345.1" x2="615.2" y2="384.4"/>
<line class="k" x1="647.3" y1="309.7" x2="550.2" y2="282.8"/>
<line class="k" x1="540.3" y1="123.2" x2="499.2" y2="71.8"/>
<line class="k" x1="549.6" y1="186.3" x2="528.4" y2="238.7"/>
<line class="k" x1="733.7" y1="469.4" x2="358.8" y2="504.6"/>
<line class="k" x1="735.1" y1="455.1" x2="623.9" y2="420.9"/>
<line class="k" x1="770.5" y1="429" x2="770.5" y2="226.5"/>
<line class="k" x1="735.3" y1="201" x2="549.7" y2="261.5"/>
<line class="k" x1="733.5" y1="191.4" x2="336" y2="211.6"/>
<line class="r" x1="570.9" y1="377.4" x2="535.9" y2="312.6"/>
<line class="r" x1="449.4" y1="68.7" x2="331.4" y2="182.3"/>
<line class="r" x1="509.1" y1="59.5" x2="730.2" y2="169.4"/>
<line class="r" x1="464.4" y1="78.1" x2="336.1" y2="465.3"/>
<line class="r" x1="352.6" y1="487.2" x2="428.8" y2="435.3"/>
</g>
<g id="p11-n0" class="nd g"><circle cx="588.5" cy="410" r="36.5"/><text x="588.5" y="418">0</text></g>
<g id="p11-n1" class="nd g"><circle cx="476" cy="43" r="36.5"/><text x="476" y="51">1</text></g>
<g id="p11-n2" class="nd g"><circle cx="466" cy="410" r="36.5"/><text x="466" y="418">2</text></g>
<g id="p11-n3" class="nd g"><circle cx="514.5" cy="273" r="36.5"/><text x="514.5" y="281">3</text></g>
<g id="p11-n4" class="nd g"><circle cx="322" cy="508" r="36.5"/><text x="322" y="516">4</text></g>
<g id="p11-n5" class="nd g"><circle cx="683" cy="319.5" r="36.5"/><text x="683" y="327.5">5</text></g>
<g id="p11-n6" class="nd g"><circle cx="563.5" cy="152" r="36.5"/><text x="563.5" y="160">6</text></g>
<g id="p11-n7" class="nd"><circle cx="770.5" cy="466" r="36.5"/><text x="770.5" y="474">7</text></g>
<g id="p11-n8" class="nd g"><circle cx="299" cy="213.5" r="36.5"/><text x="299" y="221.5">8</text></g>
<g id="p11-n9" class="nd g"><circle cx="770.5" cy="189.5" r="36.5"/><text x="770.5" y="197.5">9</text></g>
<g id="p11-adj" class="adj"><text x="8" y="140">0 : 3</text><text x="8" y="162.2">1 : 8 3 9 4</text><text x="8" y="184.4">2 : 3 8</text><text x="8" y="206.6">3 :</text><text x="8" y="228.8">4 : 3 8 2</text><text x="8" y="251">5 : 9 0 3</text><text x="8" y="273.2">6 : 1 3</text><text x="8" y="295.4">7 : 4 0 9</text><text x="8" y="317.6">8 :</text><text x="8" y="339.8">9 : 3 8</text><text x="8" y="406">7 6 5 1 4 2 9 8 0 3</text></g>
<g id="p11-stack"><rect class="box" x="897.5" y="-13.5" width="82.5" height="571.5" rx="10"/>
<g id="p11-s0" class="nd g sm"><ellipse cx="938.5" cy="535" rx="26" ry="24"/><text x="938.5" y="542.5">3</text></g>
<g id="p11-s1" class="nd g sm"><ellipse cx="938.5" cy="488.2" rx="26" ry="24"/><text x="938.5" y="495.7">0</text></g>
<g id="p11-s2" class="nd g sm"><ellipse cx="938.5" cy="441.4" rx="26" ry="24"/><text x="938.5" y="448.9">8</text></g>
<g id="p11-s3" class="nd g sm"><ellipse cx="938.5" cy="394.6" rx="26" ry="24"/><text x="938.5" y="402.1">9</text></g>
<g id="p11-s4" class="nd g sm"><ellipse cx="938.5" cy="347.8" rx="26" ry="24"/><text x="938.5" y="355.3">2</text></g>
<g id="p11-s5" class="nd g sm"><ellipse cx="938.5" cy="301" rx="26" ry="24"/><text x="938.5" y="308.5">4</text></g>
<g id="p11-s6" class="nd g sm"><ellipse cx="938.5" cy="254.2" rx="26" ry="24"/><text x="938.5" y="261.7">1</text></g>
<g id="p11-s7" class="nd g sm"><ellipse cx="938.5" cy="207.4" rx="26" ry="24"/><text x="938.5" y="214.9">5</text></g>
<g id="p11-s8" class="nd g sm"><ellipse cx="938.5" cy="160.6" rx="26" ry="24"/><text x="938.5" y="168.1">6</text></g>
</g>
</g>

<g id="panel12" transform="translate(-2.5,6531)">
<g id="p12-edges">
<line class="k" x1="482.1" y1="79.5" x2="508.4" y2="236.5"/>
<line class="k" x1="478.4" y1="375.1" x2="502.1" y2="307.9"/>
<line class="k" x1="442" y1="381.8" x2="323" y2="241.7"/>
<line class="k" x1="345.4" y1="479.4" x2="491.1" y2="301.6"/>
<line class="k" x1="319.1" y1="471.1" x2="301.9" y2="250.4"/>
<line class="k" x1="703.7" y1="288.8" x2="749.8" y2="220.2"/>
<line class="k" x1="656.3" y1="345.1" x2="615.2" y2="384.4"/>
<line class="k" x1="647.3" y1="309.7" x2="550.2" y2="282.8"/>
<line class="k" x1="540.3" y1="123.2" x2="499.2" y2="71.8"/>
<line class="k" x1="549.6" y1="186.3" x2="528.4" y2="238.7"/>
<line class="k" x1="733.7" y1="469.4" x2="358.8" y2="504.6"/>
<line class="k" x1="735.1" y1="455.1" x2="623.9" y2="420.9"/>
<line class="k" x1="770.5" y1="429" x2="770.5" y2="226.5"/>
<line class="k" x1="735.3" y1="201" x2="549.7" y2="261.5"/>
<line class="k" x1="733.5" y1="191.4" x2="336" y2="211.6"/>
<line class="r" x1="570.9" y1="377.4" x2="535.9" y2="312.6"/>
<line class="r" x1="449.4" y1="68.7" x2="331.4" y2="182.3"/>
<line class="r" x1="509.1" y1="59.5" x2="730.2" y2="169.4"/>
<line class="r" x1="464.4" y1="78.1" x2="336.1" y2="465.3"/>
<line class="r" x1="352.6" y1="487.2" x2="428.8" y2="435.3"/>
</g>
<g id="p12-n0" class="nd g"><circle cx="588.5" cy="410" r="36.5"/><text x="588.5" y="418">0</text></g>
<g id="p12-n1" class="nd g"><circle cx="476" cy="43" r="36.5"/><text x="476" y="51">1</text></g>
<g id="p12-n2" class="nd g"><circle cx="466" cy="410" r="36.5"/><text x="466" y="418">2</text></g>
<g id="p12-n3" class="nd g"><circle cx="514.5" cy="273" r="36.5"/><text x="514.5" y="281">3</text></g>
<g id="p12-n4" class="nd g"><circle cx="322" cy="508" r="36.5"/><text x="322" y="516">4</text></g>
<g id="p12-n5" class="nd g"><circle cx="683" cy="319.5" r="36.5"/><text x="683" y="327.5">5</text></g>
<g id="p12-n6" class="nd g"><circle cx="563.5" cy="152" r="36.5"/><text x="563.5" y="160">6</text></g>
<g id="p12-n7" class="nd g"><circle cx="770.5" cy="466" r="36.5"/><text x="770.5" y="474">7</text></g>
<g id="p12-n8" class="nd g"><circle cx="299" cy="213.5" r="36.5"/><text x="299" y="221.5">8</text></g>
<g id="p12-n9" class="nd g"><circle cx="770.5" cy="189.5" r="36.5"/><text x="770.5" y="197.5">9</text></g>
<g id="p12-adj" class="adj"><text x="8" y="140">0 : 3</text><text x="8" y="162.2">1 : 8 3 9 4</text><text x="8" y="184.4">2 : 3 8</text><text x="8" y="206.6">3 :</text><text x="8" y="228.8">4 : 3 8 2</text><text x="8" y="251">5 : 9 0 3</text><text x="8" y="273.2">6 : 1 3</text><text x="8" y="295.4">7 : 4 0 9</text><text x="8" y="317.6">8 :</text><text x="8" y="339.8">9 : 3 8</text><text x="8" y="406">7 6 5 1 4 2 9 8 0 3</text></g>
<g id="p12-stack"><rect class="box" x="897.5" y="-13.5" width="82.5" height="571.5" rx="10"/>
<g id="p12-s0" class="nd g sm"><ellipse cx="938.5" cy="535" rx="26" ry="24"/><text x="938.5" y="542.5">3</text></g>
<g id="p12-s1" class="nd g sm"><ellipse cx="938.5" cy="488.2" rx="26" ry="24"/><text x="938.5" y="495.7">0</text></g>
<g id="p12-s2" class="nd g sm"><ellipse cx="938.5" cy="441.4" rx="26" ry="24"/><text x="938.5" y="448.9">8</text></g>
<g id="p12-s3" class="nd g sm"><ellipse cx="938.5" cy="394.6" rx="26" ry="24"/><text x="938.5" y="402.1">9</text></g>
<g id="p12-s4" class="nd g sm"><ellipse cx="938.5" cy="347.8" rx="26" ry="24"/><text x="938.5" y="355.3">2</text></g>
<g id="p12-s5" class="nd g sm"><ellipse cx="938.5" cy="301" rx="26" ry="24"/><text x="938.5" y="308.5">4</text></g>
<g id="p12-s6" class="nd g sm"><ellipse cx="938.5" cy="254.2" rx="26" ry="24"/><text x="938.5" y="261.7">1</text></g>
<g id="p12-s7" class="nd g sm"><ellipse cx="938.5" cy="207.4" rx="26" ry="24"/><text x="938.5" y="214.9">5</text></g>
<g id="p12-s8" class="nd g sm"><ellipse cx="938.5" cy="160.6" rx="26" ry="24"/><text x="938.5" y="168.1">6</text></g>
<g id="p12-s9" class="nd g sm"><ellipse cx="938.5" cy="113.8" rx="26" ry="24"/><text x="938.5" y="121.3">7</text></g>
</g>
</g>

</g>
</svg>
